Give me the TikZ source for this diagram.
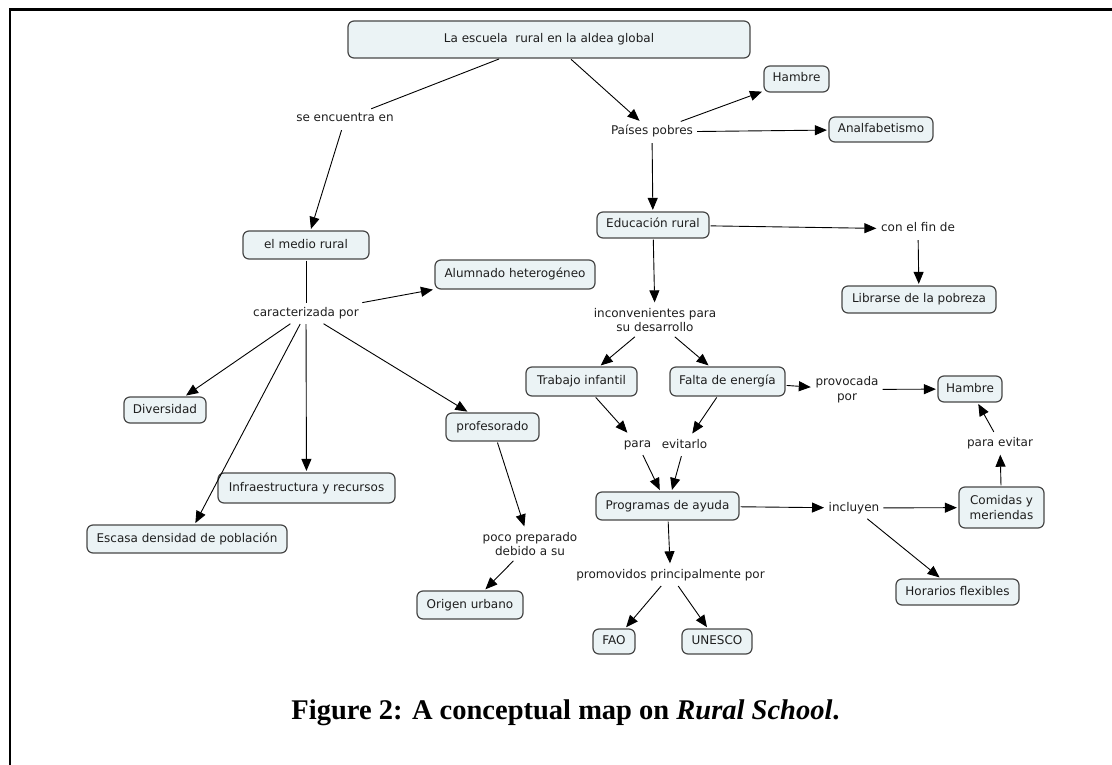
\documentclass[tikz,border=0pt]{standalone}
\usepackage{fontspec}
\setmainfont{DejaVu Sans}
\newfontfamily\capfont{Liberation Serif}
\usetikzlibrary{arrows.meta}
\definecolor{boxfill}{HTML}{EBF3F5}
\definecolor{txt}{HTML}{1E1E1E}
\begin{document}
\begin{tikzpicture}[x=1pt,y=-1pt,
  every node/.style={font=\fontsize{12}{14.6}\selectfont, text=txt},
  cbox/.style={draw=black!72, fill=boxfill, rounded corners=6pt, line width=1.2pt, inner sep=0pt, align=center},
  lab/.style={inner xsep=3pt, inner ysep=4pt, align=center},
  one/.style={text height=9pt, text depth=3pt},
  arr/.style={draw, line width=0.9pt, shorten <=1pt, shorten >=1.5pt, -{Triangle[length=12pt,width=10pt]}},
  seg/.style={draw, line width=0.9pt, shorten <=1pt}
]
\useasboundingbox (0,0) rectangle (1112,765);
\draw[line width=2.5pt] (1112,9.5) -- (10,9.5) -- (10,765);

% concepts
\node[cbox, one, minimum width=402pt, minimum height=37pt] (top) at (549,39.5) {La escuela~~rural en la aldea global};
\node[cbox, one, minimum width=126pt, minimum height=28pt] (medio) at (306,245) {el medio rural};
\node[cbox, one, minimum width=160pt, minimum height=29pt] (alum) at (515,274.5) {Alumnado heterogéneo};
\node[cbox, one, minimum width=82pt, minimum height=26pt] (div) at (165,410) {Diversidad};
\node[cbox, one, minimum width=200pt, minimum height=28pt] (escasa) at (187,539) {Escasa densidad de población};
\node[cbox, one, minimum width=177pt, minimum height=30pt] (infra) at (306.5,488) {Infraestructura y recursos};
\node[cbox, one, minimum width=93pt, minimum height=28pt] (prof) at (492.5,427) {profesorado};
\node[cbox, one, minimum width=106pt, minimum height=28pt] (origen) at (470,605) {Origen urbano};
\node[cbox, one, minimum width=65pt, minimum height=26pt] (hambrea) at (796.5,79) {Hambre};
\node[cbox, one, minimum width=104pt, minimum height=25pt] (analf) at (881,129.5) {Analfabetismo};
\node[cbox, one, minimum width=112pt, minimum height=26pt] (educ) at (653,225) {Educación rural};
\node[cbox, one, minimum width=154pt, minimum height=27pt] (librarse) at (919,299.5) {Librarse de la pobreza};
\node[cbox, one, minimum width=111pt, minimum height=29pt] (trabajo) at (581.5,381.5) {Trabajo infantil};
\node[cbox, one, minimum width=115pt, minimum height=29pt] (falta) at (727.5,381.5) {Falta de energía};
\node[cbox, one, minimum width=64pt, minimum height=26pt] (hambreb) at (970,389) {Hambre};
\node[cbox, minimum width=85pt, minimum height=41pt] (comidas) at (1001.5,507.5) {Comidas y\\meriendas};
\node[cbox, one, minimum width=143pt, minimum height=28pt] (prog) at (667.5,506) {Programas de ayuda};
\node[cbox, one, minimum width=123pt, minimum height=26pt] (horarios) at (957.5,592) {Horarios flexibles};
\node[cbox, one, minimum width=42pt, minimum height=25pt] (fao) at (614,641.5) {FAO};
\node[cbox, one, minimum width=70pt, minimum height=25pt] (unesco) at (717,641.5) {UNESCO};

% linking phrases
\node[lab, one] (seenc) at (345,119) {se encuentra en};
\node[lab, one] (carac) at (306,313) {caracterizada por};
\node[lab] (poco) at (530,544) {poco preparado\\debido a su};
\node[lab, one] (paises) at (652,132) {Países pobres};
\node[lab, one] (confin) at (918,229) {con el fin de};
\node[lab] (incon) at (655,320) {inconvenientes para\\su desarrollo};
\node[lab] (provoc) at (847,389.5) {provocada\\por};
\node[lab, one] (paraev) at (1000,443) {para evitar};
\node[lab, one] (para) at (637.5,444) {para};
\node[lab, one] (evit) at (684.5,445) {evitarlo};
\node[lab, one] (incl) at (854,508) {incluyen};
\node[lab, one] (promo) at (670.5,575) {promovidos principalmente por};

% connectors
\path[seg] (top) -- (seenc);
\path[arr] (seenc) -- (medio);
\path[arr] (top) -- (paises);
\path[seg] (medio) -- (carac);
\path[arr] (carac) -- (alum);
\path[arr] (carac) -- (div);
\path[arr] (carac) -- (escasa);
\path[arr] (carac) -- (infra);
\path[arr] (carac) -- (prof);
\path[arr] (prof) -- (poco);
\path[arr] (poco) -- (origen);
\path[arr] (paises) -- (hambrea);
\path[arr] (paises) -- (analf);
\path[arr] (paises) -- (educ);
\path[arr] (educ) -- (confin);
\path[arr] (confin) -- (librarse);
\path[arr] (educ) -- (incon);
\path[arr] (incon) -- (trabajo);
\path[arr] (incon) -- (falta);
\path[arr] (falta) -- (provoc);
\path[arr] (provoc) -- (hambreb);
\path[arr] (trabajo) -- (para);
\path[arr] (falta) -- (evit);
\path[arr] (para) -- (prog);
\path[arr] (evit) -- (prog);
\path[arr] (comidas) -- (paraev);
\path[arr] (paraev) -- (hambreb);
\path[arr] (prog) -- (incl);
\path[arr] (incl) -- (comidas);
\path[arr] (incl) -- (horarios);
\path[arr] (prog) -- (promo);
\path[arr] (promo) -- (fao);
\path[arr] (promo) -- (unesco);

% caption
\node[anchor=base, inner sep=0pt, text=black, font=\capfont\bfseries\fontsize{28.5}{32}\selectfont] (cap) at (565.5,719) {Figure 2: A conceptual map on \textit{Rural School}.};
\end{tikzpicture}
\end{document}
